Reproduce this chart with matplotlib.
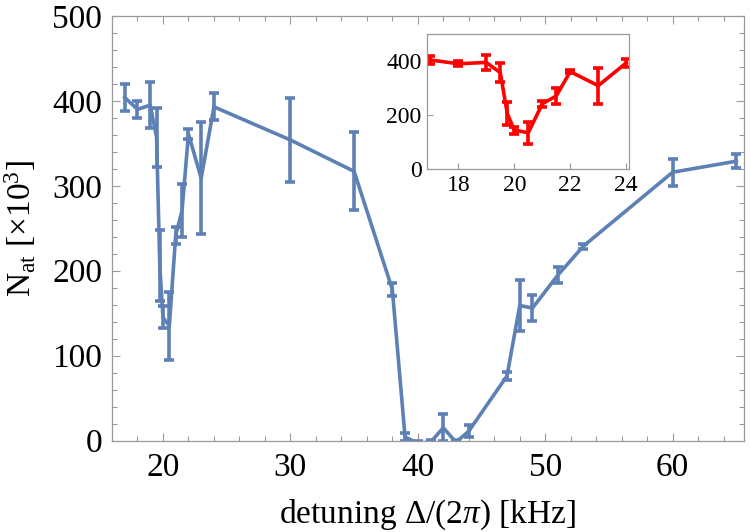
import matplotlib
matplotlib.use("Agg")
import matplotlib.pyplot as plt
from matplotlib.ticker import MultipleLocator

# ---- data ----
detuning = [17, 18, 19, 19.5, 19.75, 20, 20.5, 21, 21.5, 22, 23, 24,
            30, 35, 38, 39, 40, 41, 42, 43, 44, 47, 48, 49, 51, 53, 60, 65]
n_atoms = [404, 390, 395, 357, 206, 145, 135, 242, 271, 361, 309, 393,
           354, 317, 178, 4, -3, -2, 15, -2, 11, 76, 159, 156, 195, 229, 316, 329]
n_err = [16, 10, 27, 35, 42, 13, 40, 10, 31, 6, 66, 16,
         49, 46, 8, 5, 3, 3, 16, 3, 7, 5, 30, 15, 9, 3, 16, 8]

inset_detuning = [d for d in detuning if d <= 24]
inset_n = n_atoms[:len(inset_detuning)]
inset_err = n_err[:len(inset_detuning)]

main_xticks = [20, 30, 40, 50, 60]
main_yticks = [0, 100, 200, 300, 400, 500]
inset_xticks = [18, 20, 22, 24]
inset_yticks = [0, 200, 400]

BLUE = "#5E81B5"
RED = "#FF0000"
FRAME = "#9a9a9a"

plt.rcParams['font.family'] = ['Liberation Serif', 'DejaVu Serif']
plt.rcParams['mathtext.fontset'] = 'custom'
plt.rcParams['mathtext.rm'] = 'Liberation Serif'
plt.rcParams['mathtext.it'] = 'Liberation Serif:italic'

fig = plt.figure(figsize=(7.5, 5.32), dpi=100)
W, H = 750, 532
L, R, T, B = 112, 744, 16, 440.5
ax = fig.add_axes([L / W, 1 - B / H, (R - L) / W, (B - T) / H])

ax.errorbar(detuning, n_atoms, yerr=n_err, color=BLUE, lw=2.6,
            elinewidth=2.6, capsize=3.8, capthick=2.6)
ax.set_xlim(16, 65.6)
ax.set_ylim(0, 500)
ax.set_xticks(main_xticks)
ax.set_yticks(main_yticks)
ax.xaxis.set_minor_locator(MultipleLocator(2))
ax.yaxis.set_minor_locator(MultipleLocator(20))
ax.tick_params(which='both', direction='in', top=True, right=True,
               color=FRAME, labelsize=24)
ax.tick_params(axis='x', pad=9)
ax.tick_params(axis='y', pad=7)
ax.tick_params(which='major', length=6, width=0.8)
ax.tick_params(which='minor', length=3.5, width=0.8)
for s in ax.spines.values():
    s.set_color(FRAME)
    s.set_linewidth(0.9)
ax.set_xlabel(r"detuning $\Delta/(2\pi)$ [kHz]", fontsize=24, labelpad=10)
ax.set_ylabel(r"N$_{\mathrm{at}}$ [$\times$10$^3$]", fontsize=24, labelpad=10)

# ---- inset ----
iL, iR, iT, iB = 427, 629, 34, 169.3
ax2 = fig.add_axes([iL / W, 1 - iB / H, (iR - iL) / W, (iB - iT) / H])
ax2.errorbar(inset_detuning, inset_n, yerr=inset_err, color=RED, lw=2.6,
             elinewidth=2.6, capsize=3.5, capthick=2.6)
ax2.set_xlim(16.88, 24.1)
ax2.set_ylim(0, 500)
ax2.set_xticks(inset_xticks)
ax2.set_yticks(inset_yticks)
ax2.tick_params(which='both', direction='in', color=FRAME, labelsize=17,
                length=4, width=0.8, pad=4)
for s in ax2.spines.values():
    s.set_color(FRAME)
    s.set_linewidth(0.9)

fig.savefig("out.png", dpi=100)
